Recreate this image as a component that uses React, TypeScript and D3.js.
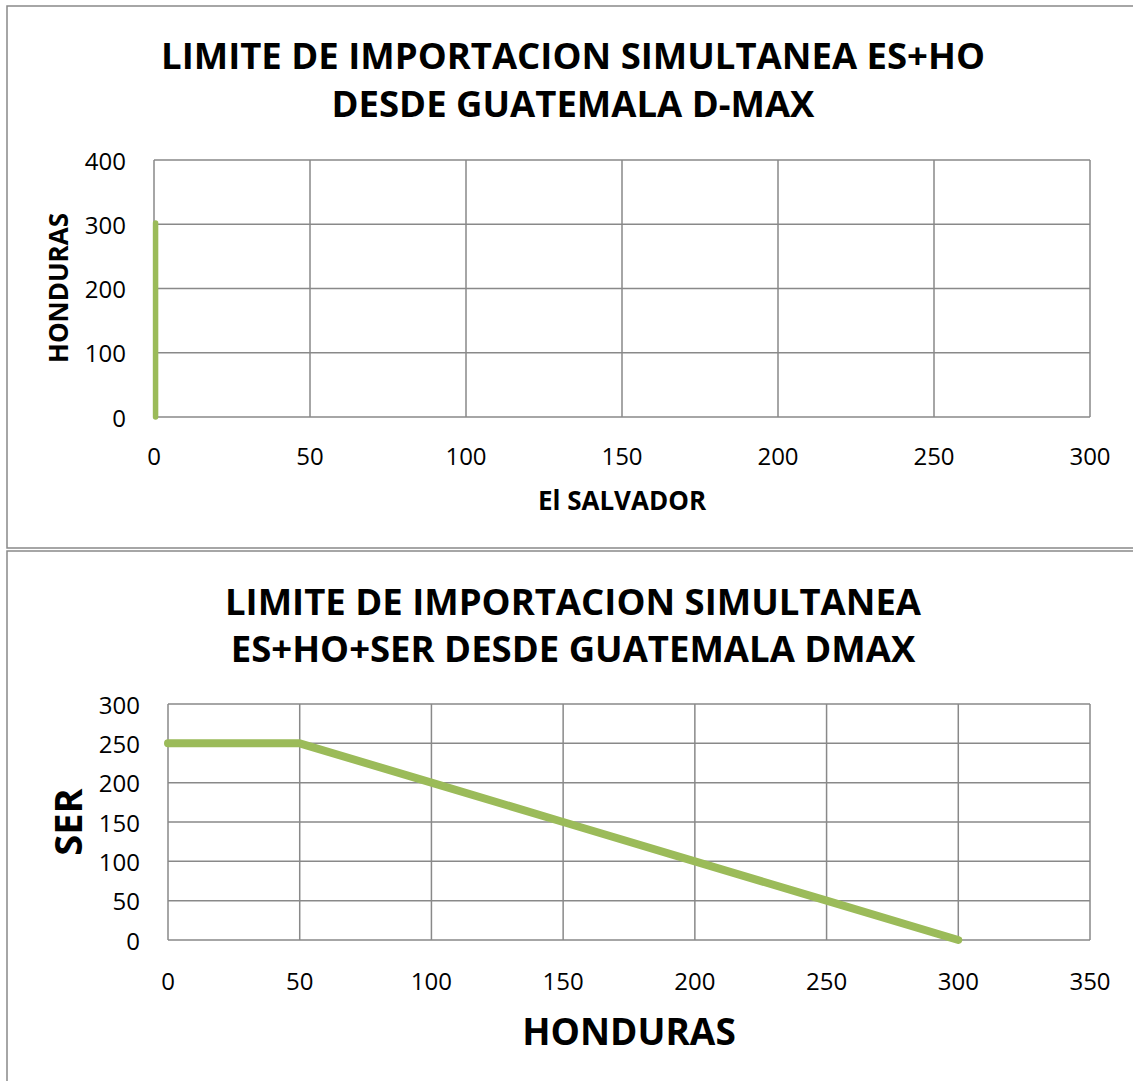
import React from "react";
import * as d3 from "d3";

const topX = [0.5, 0.5];
const topY = [0, 302];
const topXTicks = [0, 50, 100, 150, 200, 250, 300];
const topYTicks = [0, 100, 200, 300, 400];

const botX = [0, 50, 100, 150, 200, 250, 300];
const botY = [250, 250, 200, 150, 100, 50, 0];
const botXTicks = [0, 50, 100, 150, 200, 250, 300, 350];
const botYTicks = [0, 50, 100, 150, 200, 250, 300];

const GREEN = "#9BBB59";
const GRID = "#898989";
const FONT = "'Open Sans', sans-serif";

function Chart(props: any) {
  const { xs, ys, xTicks, yTicks, x0, x1, y0, y1, lineW, tickSize, yLabelX, xLabelY } = props;
  const x = d3.scaleLinear().domain([xTicks[0], xTicks[xTicks.length - 1]]).range([x0, x1]);
  const y = d3.scaleLinear().domain([yTicks[0], yTicks[yTicks.length - 1]]).range([y1, y0]);
  const pts: [number, number][] = xs.map((v: number, i: number) => [v, ys[i]]);
  const line = d3.line<[number, number]>().x((d) => x(d[0])).y((d) => y(d[1]));
  return (
    <g>
      {yTicks.map((t: number) => (
        <line key={"h" + t} x1={x0} x2={x1} y1={y(t)} y2={y(t)} stroke={GRID} strokeWidth={1.5} />
      ))}
      {xTicks.map((t: number) => (
        <line key={"v" + t} x1={x(t)} x2={x(t)} y1={y0} y2={y1} stroke={GRID} strokeWidth={1.5} />
      ))}
      {yTicks.map((t: number) => (
        <text key={"yl" + t} x={yLabelX} y={y(t)} textAnchor="end" dominantBaseline="central"
          fontFamily={FONT} fontSize={tickSize} fill="#000">{t}</text>
      ))}
      {xTicks.map((t: number) => (
        <text key={"xl" + t} x={x(t)} y={xLabelY} textAnchor="middle" dominantBaseline="central"
          fontFamily={FONT} fontSize={tickSize} fill="#000">{t}</text>
      ))}
      <path d={line(pts) || ""} fill="none" stroke={GREEN} strokeWidth={lineW} strokeLinejoin="round" strokeLinecap="round" />
    </g>
  );
}

export default function App() {
  return (
    <svg width={1133} height={1081} style={{ position: "absolute", left: 0, top: 0, background: "#fff" }}>
      <rect x={0} y={0} width={1133} height={1081} fill="#fff" />
      <rect x={7} y={6} width={1140} height={542} fill="none" stroke={GRID} strokeWidth={1.5} />
      <rect x={7} y={551} width={1140} height={540} fill="none" stroke={GRID} strokeWidth={1.5} />

      <text x={573} y={55} textAnchor="middle" dominantBaseline="central" fontFamily={FONT} fontWeight="bold" fontSize={36.5}>LIMITE DE IMPORTACION SIMULTANEA ES+HO</text>
      <text x={573} y={103} textAnchor="middle" dominantBaseline="central" fontFamily={FONT} fontWeight="bold" fontSize={36.5}>DESDE GUATEMALA D-MAX</text>
      <Chart xs={topX} ys={topY} xTicks={topXTicks} yTicks={topYTicks}
        x0={154} x1={1090} y0={160} y1={417} lineW={5.5} tickSize={24} yLabelX={126} xLabelY={455} />
      <text transform="translate(58,288) rotate(-90)" textAnchor="middle" dominantBaseline="central" fontFamily={FONT} fontWeight="bold" fontSize={26}>HONDURAS</text>
      <text x={622} y={500} textAnchor="middle" dominantBaseline="central" fontFamily={FONT} fontWeight="bold" fontSize={26}>El SALVADOR</text>

      <text x={573} y={601} textAnchor="middle" dominantBaseline="central" fontFamily={FONT} fontWeight="bold" fontSize={36.5}>LIMITE DE IMPORTACION SIMULTANEA</text>
      <text x={573} y={648} textAnchor="middle" dominantBaseline="central" fontFamily={FONT} fontWeight="bold" fontSize={36.5}>ES+HO+SER DESDE GUATEMALA DMAX</text>
      <Chart xs={botX} ys={botY} xTicks={botXTicks} yTicks={botYTicks}
        x0={168} x1={1090} y0={704} y1={940} lineW={8} tickSize={24} yLabelX={140} xLabelY={980} />
      <text transform="translate(67,822) rotate(-90)" textAnchor="middle" dominantBaseline="central" fontFamily={FONT} fontWeight="bold" fontSize={38}>SER</text>
      <text x={629} y={1030} textAnchor="middle" dominantBaseline="central" fontFamily={FONT} fontWeight="bold" fontSize={37}>HONDURAS</text>
    </svg>
  );
}
